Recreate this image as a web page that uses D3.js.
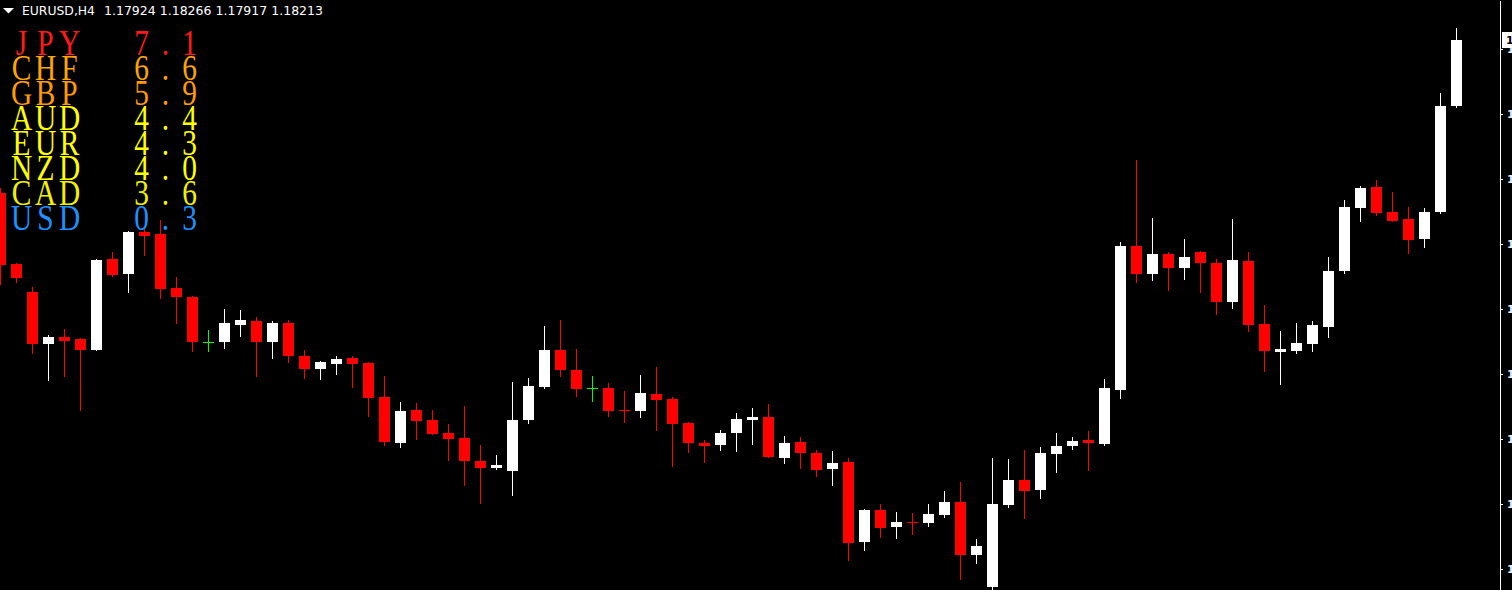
<!DOCTYPE html>
<html>
<head>
<meta charset="utf-8">
<script src="https://cdn.jsdelivr.net/npm/d3@7"></script>
<style>
  html, body { margin: 0; padding: 0; background: #000; overflow: hidden; }
  svg { display: block; }
  text { white-space: pre; }
</style>
</head>
<body>
<script>
// ---- DATA ----
const symbol = "EURUSD,H4";
const lastBar = ["1.17924", "1.18266", "1.17917", "1.18213"];

const currencies = ["JPY", "CHF", "GBP", "AUD", "EUR", "NZD", "CAD", "USD"];
const strengths = [7.1, 6.6, 5.9, 4.4, 4.3, 4.0, 3.6, 0.3];
const currencyColors = ["#ff1a1a", "#ffa500", "#ff9a00", "#ffff00", "#ffff00", "#ffff00", "#f2f200", "#1e90ff"];

const opens = [1.17543,1.17232,1.17109,1.16882,1.16912,1.16904,1.16855,1.17254,1.17188,1.17372,
 1.17363,1.17127,1.17087,1.16890,1.16890,1.16965,1.16982,1.16890,1.16974,1.16829,
 1.16772,1.16794,1.16820,1.16798,1.16650,1.16448,1.16593,1.16549,1.16492,1.16470,
 1.16369,1.16339,1.16325,1.16549,1.16693,1.16855,1.16768,1.16689,1.16689,1.16595,
 1.16588,1.16663,1.16641,1.16536,1.16448,1.16439,1.16492,1.16549,1.16562,1.16382,
 1.16452,1.16404,1.16334,1.16365,1.16015,1.16155,1.16080,1.16104,1.16098,1.16133,
 1.16190,1.15958,1.15818,1.16177,1.16286,1.16242,1.16400,1.16435,1.16461,1.16444,
 1.16680,1.17311,1.17188,1.17276,1.17214,1.17284,1.17236,1.17066,1.17245,1.16969,
 1.16847,1.16851,1.16882,1.16956,1.17201,1.17477,1.17569,1.17460,1.17429,1.17341,
 1.17460,1.17924];
const highs = [1.17565,1.17236,1.17131,1.16921,1.16947,1.16908,1.17254,1.17284,1.17376,1.17385,
 1.17425,1.17175,1.17092,1.16943,1.17035,1.17031,1.17000,1.16982,1.16987,1.16855,
 1.16807,1.16829,1.16829,1.16803,1.16741,1.16628,1.16623,1.16593,1.16531,1.16610,
 1.16439,1.16396,1.16715,1.16733,1.16960,1.16987,1.16860,1.16741,1.16711,1.16676,
 1.16746,1.16781,1.16650,1.16540,1.16461,1.16505,1.16579,1.16601,1.16619,1.16479,
 1.16474,1.16417,1.16413,1.16382,1.16159,1.16181,1.16146,1.16142,1.16181,1.16238,
 1.16277,1.16028,1.16382,1.16378,1.16417,1.16431,1.16492,1.16474,1.16501,1.16728,
 1.17328,1.17687,1.17433,1.17284,1.17341,1.17289,1.17254,1.17429,1.17284,1.17052,
 1.16939,1.16974,1.16982,1.17263,1.17512,1.17574,1.17600,1.17547,1.17482,1.17477,
 1.17981,1.18266];
const lows = [1.17140,1.17149,1.16838,1.16720,1.16737,1.16588,1.16851,1.17175,1.17105,1.17267,
 1.17079,1.16969,1.16847,1.16847,1.16860,1.16912,1.16737,1.16816,1.16798,1.16728,
 1.16724,1.16746,1.16689,1.16562,1.16435,1.16426,1.16461,1.16483,1.16369,1.16260,
 1.16181,1.16330,1.16216,1.16531,1.16685,1.16737,1.16650,1.16628,1.16562,1.16536,
 1.16558,1.16501,1.16343,1.16404,1.16361,1.16413,1.16409,1.16439,1.16382,1.16356,
 1.16334,1.16299,1.16260,1.15931,1.15975,1.16032,1.16028,1.16045,1.16080,1.16120,
 1.15848,1.15918,1.15791,1.16163,1.16115,1.16203,1.16317,1.16417,1.16325,1.16435,
 1.16641,1.17149,1.17157,1.17114,1.17162,1.17105,1.17009,1.17035,1.16934,1.16759,
 1.16702,1.16838,1.16847,1.16908,1.17188,1.17416,1.17442,1.17416,1.17276,1.17302,
 1.17451,1.17917];
const closes = [1.17228,1.17171,1.16882,1.16912,1.16895,1.16855,1.17249,1.17184,1.17372,1.17355,
 1.17122,1.17087,1.16890,1.16890,1.16974,1.16987,1.16890,1.16974,1.16829,1.16772,
 1.16803,1.16816,1.16794,1.16645,1.16452,1.16588,1.16544,1.16488,1.16466,1.16369,
 1.16339,1.16352,1.16549,1.16698,1.16855,1.16768,1.16685,1.16689,1.16588,1.16590,
 1.16667,1.16636,1.16531,1.16448,1.16435,1.16492,1.16553,1.16562,1.16387,1.16448,
 1.16404,1.16330,1.16361,1.16010,1.16155,1.16076,1.16102,1.16100,1.16137,1.16190,
 1.15958,1.15997,1.16181,1.16286,1.16238,1.16404,1.16435,1.16457,1.16448,1.16689,
 1.17311,1.17188,1.17276,1.17214,1.17263,1.17236,1.17066,1.17249,1.16965,1.16851,
 1.16860,1.16886,1.16965,1.17201,1.17482,1.17565,1.17455,1.17420,1.17337,1.17460,
 1.17924,1.18213];
const priceTicks = [1.18175, 1.17890, 1.17605, 1.17320, 1.17035, 1.16750, 1.16465, 1.16180, 1.15895];

// ---- CHART ----
const W = 1512, H = 590;
const svg = d3.select("body").append("svg").attr("width", W).attr("height", H)
  .style("background", "#000");

const bars = opens.map((o, i) => ({ i, o, h: highs[i], l: lows[i], c: closes[i] }));
const x = d3.scaleLinear().domain([0, bars.length - 1]).range([0, 1456]);
const y = d3.scaleLinear().domain([1.15805, 1.18388]).range([H, 0]);

const colorOf = d => d.c > d.o ? "#ffffff" : (d.c < d.o ? "#ff0000" : "#00ff00");

const g = svg.append("g").attr("shape-rendering", "crispEdges");
const candle = g.selectAll("g.c").data(bars).join("g").attr("class", "c");
candle.append("rect")
  .attr("x", d => Math.round(x(d.i)))
  .attr("width", 1)
  .attr("y", d => Math.round(y(d.h)))
  .attr("height", d => Math.max(1, Math.round(y(d.l)) - Math.round(y(d.h))))
  .attr("fill", colorOf);
candle.append("rect")
  .attr("x", d => Math.round(x(d.i)) - 5)
  .attr("width", 11)
  .attr("y", d => Math.round(y(Math.max(d.o, d.c))))
  .attr("height", d => Math.max(1, Math.round(y(Math.min(d.o, d.c))) - Math.round(y(Math.max(d.o, d.c)))))
  .attr("fill", colorOf);

// right price axis
const axisX = 1500;
const axis = d3.axisRight(y).tickValues(priceTicks).tickSize(3).tickSizeOuter(0)
  .tickPadding(4).tickFormat(d3.format(".5f"));
const ag = svg.append("g").attr("transform", `translate(${axisX},0)`).call(axis);
ag.select(".domain").attr("stroke", "#ffffff").attr("shape-rendering", "crispEdges");
ag.selectAll(".tick line").attr("stroke", "#ffffff").attr("shape-rendering", "crispEdges");
ag.selectAll(".tick text").attr("fill", "#e8f0ff")
  .attr("font-family", "DejaVu Sans, sans-serif").attr("font-size", 11).attr("font-weight", "bold");

// current price box
const lastClose = closes[closes.length - 1];
svg.append("rect").attr("x", axisX + 2).attr("y", Math.round(y(lastClose)) - 8)
  .attr("width", 12).attr("height", 16).attr("fill", "#ffffff");
svg.append("text").attr("x", axisX + 6).attr("y", Math.round(y(lastClose)) + 4)
  .attr("fill", "#000").attr("font-family", "DejaVu Sans, sans-serif")
  .attr("font-size", 11).attr("font-weight", "bold").text(d3.format(".5f")(lastClose));

// header
svg.append("path").attr("d", "M3,8 L14,8 L8.5,13.5 Z").attr("fill", "#ffffff");
svg.append("text").attr("x", 22).attr("y", 15).attr("fill", "#ffffff")
  .attr("font-family", "DejaVu Sans, sans-serif").attr("font-size", 12.5)
  .attr("textLength", 73).attr("lengthAdjust", "spacingAndGlyphs").text(symbol);
svg.append("text").attr("x", 104).attr("y", 15).attr("fill", "#ffffff")
  .attr("font-family", "DejaVu Sans, sans-serif").attr("font-size", 12.5)
  .attr("textLength", 219).attr("lengthAdjust", "spacingAndGlyphs").text(lastBar.join(" "));

// currency strength legend: monospace grid of 24px cells, slightly condensed serif glyphs
const sx = 0.84;
const legend = svg.append("g").attr("transform", `scale(${sx},1)`);
legend.selectAll("text").data(currencies).join("text")
  .attr("x", (d, i) => {
    const s = `${d}  ${strengths[i].toFixed(1)}`;
    return Array.from(s).map((ch, j) => ((21.5 + 24 * j) / sx).toFixed(2)).join(" ");
  })
  .attr("y", (d, i) => 55 + 25 * i)
  .attr("text-anchor", "middle")
  .attr("fill", (d, i) => currencyColors[i])
  .attr("font-family", "Liberation Serif, Times New Roman, serif")
  .attr("font-size", 35)
  .text((d, i) => `${d}  ${strengths[i].toFixed(1)}`);
</script>
</body>
</html>
